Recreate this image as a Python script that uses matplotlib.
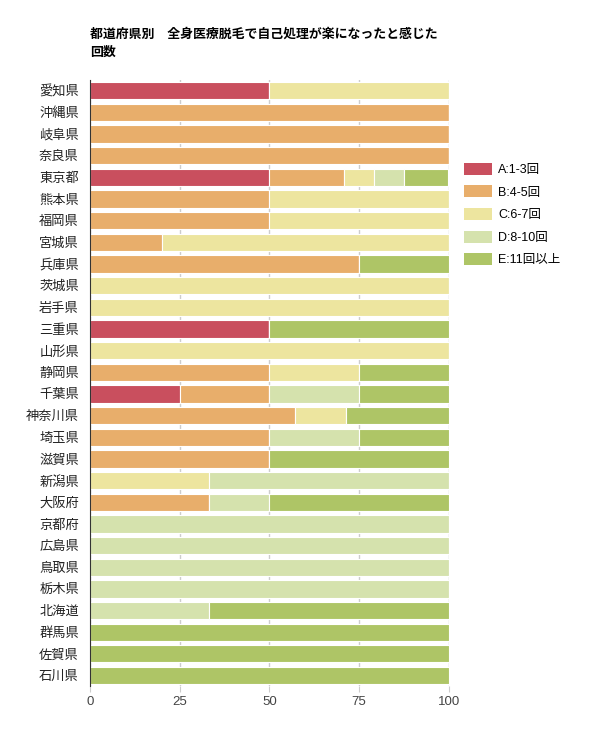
import numpy as np
import matplotlib
matplotlib.use("Agg")
import matplotlib.pyplot as plt
from matplotlib.patches import Patch

plt.rcParams['font.family'] = ['Liberation Sans', 'Noto Sans CJK JP', 'DejaVu Sans']

# prefectures, top to bottom
prefs = ["愛知県", "沖縄県", "岐阜県", "奈良県", "東京都", "熊本県", "福岡県", "宮城県",
         "兵庫県", "茨城県", "岩手県", "三重県", "山形県", "静岡県", "千葉県", "神奈川県",
         "埼玉県", "滋賀県", "新潟県", "大阪府", "京都府", "広島県", "鳥取県", "栃木県",
         "北海道", "群馬県", "佐賀県", "石川県"]

# percentages per category
a_vals = [50, 0, 0, 0, 50, 0, 0, 0, 0, 0, 0, 50, 0, 0, 25, 0,
          0, 0, 0, 0, 0, 0, 0, 0, 0, 0, 0, 0]
b_vals = [0, 100, 100, 100, 20.8, 50, 50, 20, 75, 0, 0, 0, 0, 50, 25, 57.1,
          50, 50, 0, 33.3, 0, 0, 0, 0, 0, 0, 0, 0]
c_vals = [50, 0, 0, 0, 8.3, 50, 50, 80, 0, 100, 100, 0, 100, 25, 0, 14.3,
          0, 0, 33.3, 0, 0, 0, 0, 0, 0, 0, 0, 0]
d_vals = [0, 0, 0, 0, 8.3, 0, 0, 0, 0, 0, 0, 0, 0, 0, 25, 0,
          25, 0, 66.7, 16.7, 100, 100, 100, 100, 33.3, 0, 0, 0]
e_vals = [0, 0, 0, 0, 12.5, 0, 0, 0, 25, 0, 0, 50, 0, 25, 25, 28.6,
          25, 50, 0, 50, 0, 0, 0, 0, 66.7, 100, 100, 100]

series = [("A:1-3回", a_vals, "#c94f5e"),
          ("B:4-5回", b_vals, "#e8ae6b"),
          ("C:6-7回", c_vals, "#ede59f"),
          ("D:8-10回", d_vals, "#d5e2ad"),
          ("E:11回以上", e_vals, "#aec566")]

fig = plt.figure(figsize=(6, 7.46), dpi=100)
ax = fig.add_axes([0.15, 0.080, 0.598, 0.813])

y = np.arange(len(prefs))
left = np.zeros(len(prefs))
for name, vals, col in series:
    vals = np.array(vals, dtype=float)
    ax.barh(y, vals, left=left, height=0.8, color=col, edgecolor="white",
            linewidth=0.8, zorder=2)
    left += vals

ax.set_xlim(0, 100)
ax.set_ylim(len(prefs) - 0.5, -0.5)
ax.set_yticks(y)
ax.set_yticklabels(prefs, fontsize=9.5, color="#222222")
ax.set_xticks([0, 25, 50, 75, 100])
ax.set_xticklabels(["0", "25", "50", "75", "100"], fontsize=9.5, color="#444444")
ax.tick_params(axis="y", length=0, pad=8)
ax.tick_params(axis="x", length=4, color="#cccccc", pad=3)
ax.grid(axis="x", color="#cccccc", linewidth=1, zorder=0)
for s in ["top", "right", "bottom"]:
    ax.spines[s].set_visible(False)
ax.spines["left"].set_color("#333333")
ax.spines["left"].set_zorder(3)

fig.text(0.15, 0.942, "都道府県別　全身医療脱毛で自己処理が楽になったと感じた\n回数",
         fontsize=9.3, fontweight="bold", ha="left", va="center", linespacing=1.6)

handles = [Patch(facecolor=col, edgecolor="none", label=name) for name, _, col in series]
fig.legend(handles=handles, loc="upper left", bbox_to_anchor=(0.755, 0.797),
           frameon=False, fontsize=9, handlelength=2.2, handleheight=1.1,
           handletextpad=0.5, labelspacing=0.75)

fig.savefig("out.png", dpi=100)
